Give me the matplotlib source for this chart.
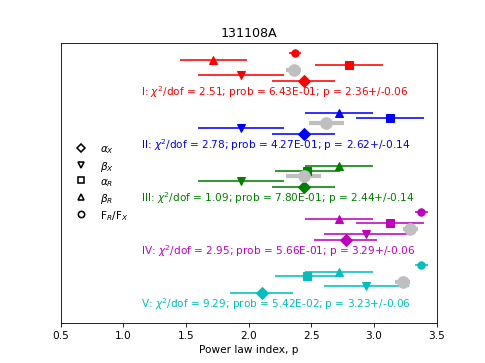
import numpy as np
import matplotlib.pyplot as plt
from matplotlib.lines import Line2D

# one entry per epoch I..V (top to bottom)
epochs = ["I", "II", "III", "IV", "V"]
colors = ["r", "b", "g", "m", "c"]

alpha_x = [2.44, 2.44, 2.44, 2.775, 2.105]
alpha_x_err = [0.25, 0.25, 0.25, 0.25, 0.25]
beta_x = [1.94, 1.94, 1.94, 2.94, 2.94]
beta_x_err = [0.34, 0.34, 0.34, 0.34, 0.34]
alpha_r = [2.80, 3.13, 2.47, 3.13, 2.47]
alpha_r_err = [0.27, 0.27, 0.26, 0.27, 0.26]
beta_r = [1.72, 2.72, 2.72, 2.72, 2.72]
beta_r_err = [0.27, 0.27, 0.27, 0.27, 0.27]
flux_ratio = [2.37, np.nan, np.nan, 3.38, 3.38]
flux_ratio_err = [0.05, np.nan, np.nan, 0.05, 0.05]

p_fit = [2.36, 2.62, 2.44, 3.29, 3.23]
p_fit_err = [0.06, 0.14, 0.14, 0.06, 0.06]
chi2_dof = [2.51, 2.78, 1.09, 2.95, 9.29]
prob = ["6.43E-01", "4.27E-01", "7.80E-01", "5.66E-01", "5.42E-02"]

fig = plt.figure(figsize=(6.4, 4.8), dpi=485/6.4)
ax = plt.gca()

for i in range(len(epochs)):
    y0 = len(epochs) - i
    c = colors[i]
    kw = dict(color=c, ls="none", elinewidth=1.5, capsize=0)
    ax.errorbar(alpha_x[i], y0 + 0.20, xerr=alpha_x_err[i], marker="D", ms=8, **kw)
    ax.errorbar(beta_x[i], y0 + 0.32, xerr=beta_x_err[i], marker="v", ms=8, **kw)
    ax.errorbar(alpha_r[i], y0 + 0.51, xerr=alpha_r_err[i], marker="s", ms=7, **kw)
    ax.errorbar(beta_r[i], y0 + 0.59, xerr=beta_r_err[i], marker="^", ms=8, **kw)
    if not np.isnan(flux_ratio[i]):
        ax.errorbar(flux_ratio[i], y0 + 0.72, xerr=flux_ratio_err[i], marker="o", ms=7, **kw)
    ax.errorbar(p_fit[i], y0 + 0.41, xerr=p_fit_err[i], marker="o", ms=11,
                color="0.75", ls="none", elinewidth=4, capsize=0)
    txt = r"%s: $\chi^2$/dof = %.2f; prob = %s; p = %.2f+/-%.2f" % (
        epochs[i], chi2_dof[i], prob[i], p_fit[i], p_fit_err[i])
    ax.text(1.14, y0, txt, color=c, va="center", ha="left")

handles = [Line2D([], [], ls="none", marker=m, mfc="none", mec="k", mew=1.5, ms=6)
           for m in ["D", "v", "s", "^", "o"]]
labels = [r"$\alpha_X$", r"$\beta_X$", r"$\alpha_R$", r"$\beta_R$", r"F$_R$/F$_X$"]
ax.legend(handles, labels, loc="center left", frameon=False, numpoints=1,
          labelspacing=0.3)

ax.set_xlim(0.5, 3.5)
ax.set_ylim(0.63, 5.92)
ax.set_yticks([])
ax.set_xlabel("Power law index, p")
ax.set_title("131108A")

plt.savefig("out.png")
